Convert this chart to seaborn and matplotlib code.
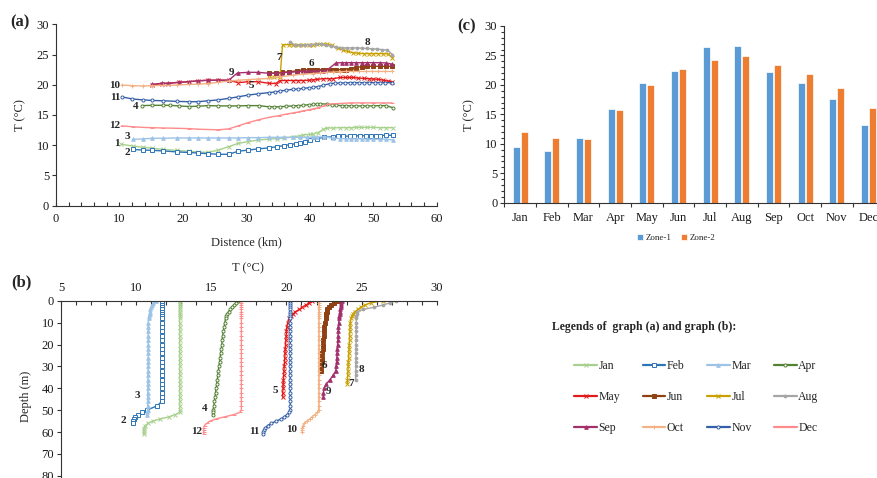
import matplotlib
matplotlib.use("Agg")
import matplotlib.pyplot as plt
import seaborn as sns
import pandas as pd
from matplotlib.ticker import MultipleLocator

# ---- shared month styling -------------------------------------------------
months = ["Jan", "Feb", "Mar", "Apr", "May", "Jun", "Jul", "Aug", "Sep", "Oct", "Nov", "Dec"]
colors = ["#A9D18E", "#2E75B6", "#9DC3E6", "#548235", "#E31A1C", "#8E4214",
          "#C9A000", "#A5A5A5", "#A3306B", "#F4B183", "#3560A8", "#FF8C8C"]
markers = ["x", "s", "^", "o", "x", "s", "x", "o", "^", "+", "o", "_"]
faces = [None, "white", None, "white", None, None, None, None, None, None, "white", None]
msizes = [2.6, 2.3, 2.6, 2.2, 2.8, 2.4, 2.6, 2.0, 2.6, 3.0, 2.2, 3.0]

# ---- (a) temperature along distance ----------------------------------------
dist_jan = [10.3, 12.1, 13.7, 15.2, 16.9, 19.0, 20.9, 22.4, 24.0, 25.6, 27.2, 28.7, 30.3, 31.9, 33.5, 34.8, 36.0, 37.4,
            38.4, 39.0, 40.0, 40.5, 41.3, 42.1, 42.7, 43.7, 44.7, 45.7, 46.5, 47.3, 48.0, 49.0, 50.0, 51.0, 52.0, 53.1]
t_jan = [10.15, 9.87, 9.65, 9.5, 9.3, 9.15, 9.0, 8.88, 8.82, 9.2, 9.76, 10.3, 10.6, 10.86, 11.0, 11.1, 11.2, 11.4,
         11.55, 11.7, 11.8, 11.85, 12.1, 12.6, 12.85, 12.85, 12.9, 12.9, 12.9, 12.95, 12.95, 12.95, 12.95, 12.9, 12.9, 12.9]
dist_feb = [12.1, 13.7, 15.2, 16.9, 19.0, 20.9, 22.4, 24.0, 25.6, 27.2, 28.7, 30.3, 31.9, 33.5, 34.8, 36.0, 36.9, 37.8,
            38.5, 39.3, 40.1, 41.2, 42.2, 43.7, 44.5, 45.3, 46.3, 47.0, 47.9, 48.8, 49.6, 50.4, 51.1, 52.0, 53.1]
t_feb = [9.3, 9.2, 9.15, 9.05, 8.9, 8.8, 8.7, 8.6, 8.5, 8.5, 9.0, 9.2, 9.4, 9.55, 9.75, 9.95, 10.1, 10.25,
         10.4, 10.6, 10.85, 11.1, 11.3, 11.4, 11.45, 11.5, 11.5, 11.55, 11.55, 11.6, 11.6, 11.6, 11.6, 11.65, 11.65]
dist_mar = [12.1, 13.7, 15.2, 16.9, 19.0, 20.9, 22.4, 24.0, 25.6, 27.2, 28.7, 30.3, 31.9, 33.5, 34.8, 36.0, 37.4,
            38.5, 39.5, 40.5, 41.2, 42.2, 43.7, 44.7, 45.7, 46.5, 47.3, 48.2, 49.0, 50.0, 51.0, 52.0, 53.1]
t_mar = [10.97, 11.05, 11.15, 11.15, 11.2, 11.2, 11.2, 11.2, 11.2, 11.2, 11.2, 11.25, 11.25, 11.3, 11.3, 11.3, 11.3,
         11.3, 11.3, 11.35, 11.35, 11.4, 11.15, 11.1, 11.05, 11.05, 11.05, 11.05, 11.0, 11.0, 11.0, 11.0, 10.85]
dist_apr = [13.5, 15.2, 16.9, 17.9, 19.3, 20.9, 22.4, 24.0, 25.6, 27.2, 28.7, 30.3, 32.0, 33.5, 34.4, 35.3, 36.3, 37.4,
            38.2, 39.0, 39.8, 40.5, 41.2, 41.6, 42.7, 43.5, 44.2, 45.0, 45.7, 46.5, 47.3, 48.2, 49.0, 50.0, 51.0, 52.0, 53.1]
t_apr = [16.55, 16.6, 16.6, 16.6, 16.5, 16.4, 16.45, 16.55, 16.5, 16.5, 16.5, 16.55, 16.55, 16.35, 16.35, 16.35, 16.45, 16.5,
         16.55, 16.6, 16.7, 16.75, 16.8, 16.85, 16.8, 16.65, 16.6, 16.55, 16.55, 16.5, 16.5, 16.5, 16.5, 16.5, 16.55, 16.55, 16.2]
dist_may = [15.1, 16.7, 17.6, 19.3, 20.9, 22.4, 24.0, 25.6, 27.2, 28.7, 30.3, 31.9, 33.5, 34.6, 35.3, 36.3, 37.4, 38.2,
            39.0, 39.8, 40.5, 41.2, 42.1, 43.0, 43.7, 44.7, 45.5, 46.2, 46.8, 47.6, 48.5, 49.3, 50.0, 50.8, 51.6, 52.3, 53.0]
t_may = [19.95, 20.2, 20.2, 20.4, 20.5, 20.65, 20.75, 20.75, 20.75, 20.35, 20.5, 20.5, 20.25, 20.2, 20.7, 20.7, 20.7, 20.7,
         20.7, 20.75, 20.8, 20.9, 21.0, 21.0, 21.0, 21.2, 21.2, 21.2, 21.2, 21.1, 21.05, 21.0, 20.95, 20.9, 20.75, 20.6, 20.5]
dist_jun = [33.5, 34.6, 35.6, 36.7, 38.0, 39.0, 39.8, 40.5, 41.2, 42.0, 42.7, 43.5, 44.2, 45.0, 45.7, 46.5, 47.3, 48.2,
            49.0, 50.0, 51.0, 52.0, 53.0]
t_jun = [21.9, 21.95, 22.05, 22.15, 22.3, 22.5, 22.5, 22.5, 22.5, 22.5, 22.5, 22.5, 22.5, 22.5, 22.5, 22.55, 22.85, 23.0,
         23.05, 23.05, 23.05, 23.05, 23.05]
dist_jul = [33.5, 34.3, 35.3, 35.7, 36.7, 37.4, 38.2, 39.0, 39.8, 40.5, 41.2, 42.0, 42.7, 43.5, 44.4, 45.2, 46.0, 46.8,
            47.6, 48.5, 49.3, 50.0, 50.8, 51.6, 52.3, 53.0]
t_jul = [21.2, 21.2, 21.2, 26.6, 26.65, 26.6, 26.6, 26.65, 26.65, 26.65, 26.7, 26.7, 26.7, 26.5, 26.05, 25.75, 25.5, 25.3,
         25.2, 25.15, 25.15, 25.15, 25.15, 25.15, 25.1, 24.5]
dist_aug = [36.9, 37.7, 38.5, 39.3, 40.1, 40.9, 41.7, 42.5, 43.3, 44.2, 45.0, 45.8, 46.6, 47.4, 48.2, 49.0, 49.8, 50.6,
            51.4, 52.2, 53.0]
t_aug = [27.1, 26.5, 26.55, 26.6, 26.65, 26.7, 26.7, 26.6, 26.45, 26.2, 26.1, 26.1, 26.1, 26.1, 26.05, 26.0, 25.95, 25.9,
         25.8, 25.75, 25.0]
dist_sep = [15.1, 16.7, 17.6, 19.3, 20.9, 22.4, 24.0, 25.6, 27.2, 28.6, 30.3, 31.9, 33.5, 34.6, 35.6, 36.7, 38.0, 39.0,
            39.6, 40.5, 41.2, 42.0, 42.7, 44.1, 45.0, 45.7, 46.5, 47.3, 48.2, 49.0, 50.0, 51.0, 52.0, 53.0]
t_sep = [20.05, 20.25, 20.25, 20.4, 20.5, 20.65, 20.75, 20.75, 20.75, 21.95, 22.05, 22.05, 21.9, 21.9, 22.0, 22.05, 22.15, 22.2,
         22.2, 22.25, 22.3, 22.35, 22.4, 23.6, 23.65, 23.65, 23.65, 23.65, 23.65, 23.65, 23.65, 23.65, 23.6, 23.4]
dist_oct = [10.35, 12.0, 13.7, 15.2, 16.9, 19.0, 20.9, 22.4, 24.0, 25.6, 27.2, 28.7, 30.3, 31.9, 33.5, 35.3, 37.4, 39.0,
            40.5, 41.6, 42.7, 43.7, 44.7, 45.7, 46.8, 47.8, 48.8, 49.8, 50.8, 51.8, 53.0]
t_oct = [19.95, 19.85, 19.8, 19.85, 19.9, 19.95, 20.05, 20.1, 20.2, 20.4, 20.6, 20.75, 20.85, 20.95, 21.05, 21.3, 21.6, 21.75,
         21.85, 21.95, 22.05, 22.1, 22.15, 22.2, 22.2, 22.2, 22.2, 22.2, 22.2, 22.2, 22.2]
dist_nov = [10.35, 12.0, 13.7, 15.2, 16.9, 19.0, 20.9, 22.4, 24.0, 25.6, 27.2, 28.7, 30.3, 31.9, 33.5, 34.5, 35.3, 36.3,
            37.4, 38.2, 39.0, 39.8, 40.5, 41.3, 42.1, 43.2, 44.0, 44.7, 45.5, 46.3, 47.0, 47.8, 48.6, 49.4, 50.2, 51.0, 51.8, 53.0]
t_nov = [18.0, 17.65, 17.5, 17.4, 17.35, 17.25, 17.2, 17.2, 17.35, 17.5, 17.75, 18.0, 18.3, 18.5, 18.7, 18.8, 18.95, 19.1,
         19.25, 19.3, 19.4, 19.5, 19.55, 19.7, 19.9, 20.2, 20.25, 20.3, 20.3, 20.35, 20.35, 20.35, 20.35, 20.35, 20.35, 20.35, 20.35, 20.35]
dist_dec = [10.35, 12.1, 13.7, 15.2, 16.9, 19.0, 20.9, 22.4, 24.0, 25.6, 27.2, 28.7, 30.3, 31.9, 33.5, 35.2, 36.3, 37.4,
            38.2, 39.0, 39.8, 40.5, 41.3, 42.1, 42.9, 44.7, 46.5, 48.2, 50.0, 51.5, 53.0]
t_dec = [13.2, 13.05, 12.95, 12.9, 12.85, 12.8, 12.75, 12.65, 12.6, 12.55, 12.7, 13.2, 13.75, 14.2, 14.6, 14.9, 15.15, 15.35,
         15.5, 15.7, 15.85, 16.0, 16.2, 16.45, 16.8, 16.9, 17.0, 17.0, 17.0, 17.0, 17.0]

dist_a = [dist_jan, dist_feb, dist_mar, dist_apr, dist_may, dist_jun, dist_jul, dist_aug, dist_sep, dist_oct, dist_nov, dist_dec]
temp_a = [t_jan, t_feb, t_mar, t_apr, t_may, t_jun, t_jul, t_aug, t_sep, t_oct, t_nov, t_dec]

lab_a_txt = ["1", "2", "3", "4", "5", "6", "7", "8", "9", "10", "11", "12"]
lab_a_x = [9.6, 11.3, 11.2, 12.6, 30.8, 40.3, 35.1, 49.0, 27.7, 9.3, 9.3, 9.3]
lab_a_y = [10.3, 8.8, 11.4, 16.4, 19.8, 23.5, 24.5, 27.0, 22.0, 19.95, 17.9, 13.2]

# ---- (b) vertical profiles -------------------------------------------------
depth_b = [0, 1, 2, 3, 4, 5, 6, 7, 8, 10, 12, 14, 16, 18, 20, 22, 24, 26, 28, 30, 32, 34, 36, 38, 40,
           42, 44, 46, 48, 50, 51, 52, 53, 54, 55, 56, 57, 58, 59, 60, 61]
prof_jan = [12.9, 12.9, 12.9, 12.9, 12.9, 12.9, 12.9, 12.9, 12.9, 12.9, 12.9, 12.9, 12.9, 12.9, 12.9, 12.9, 12.9, 12.9,
            12.9, 12.9, 12.9, 12.9, 12.9, 12.9, 12.9, 12.9, 12.9, 12.9, 12.9, 12.9, 12.9, 12.6, 12.2, 11.6, 11.1, 10.8,
            10.6, 10.55, 10.5, 10.5, 10.5]
prof_feb = [11.7, 11.7, 11.7, 11.7, 11.7, 11.7, 11.7, 11.7, 11.7, 11.7, 11.7, 11.7, 11.7, 11.7, 11.7, 11.7, 11.7, 11.7,
            11.7, 11.7, 11.7, 11.7, 11.7, 11.7, 11.7, 11.7, 11.7, 11.7, 11.4, 10.7, 10.4, 10.15, 9.95, 9.85, 9.8, 9.8]
prof_mar = [11.3, 11.15, 11.05, 11.0, 10.95, 10.9, 10.9, 10.85, 10.85, 10.8, 10.8, 10.8, 10.8, 10.8, 10.8, 10.8, 10.8,
            10.8, 10.8, 10.8, 10.78, 10.78, 10.78, 10.78, 10.77, 10.77, 10.77, 10.76, 10.76, 10.76, 10.75, 10.75]
prof_apr = [16.8, 16.65, 16.5, 16.35, 16.25, 16.15, 16.05, 16.0, 15.95, 15.9, 15.85, 15.8, 15.75, 15.72, 15.7, 15.66,
            15.62, 15.58, 15.55, 15.5, 15.47, 15.43, 15.4, 15.36, 15.32, 15.28, 15.25, 15.2, 15.17, 15.12, 15.1, 15.08]
prof_may = [21.7, 21.5, 21.3, 21.05, 20.85, 20.6, 20.45, 20.3, 20.2, 20.08, 20.03, 20.0, 19.98, 19.96, 19.94, 19.92,
            19.9, 19.89, 19.87, 19.85, 19.83, 19.81, 19.8, 19.78, 19.77, 19.75, 19.75]
prof_jun = [23.4, 23.15, 22.95, 22.8, 22.72, 22.68, 22.65, 22.62, 22.6, 22.55, 22.52, 22.5, 22.47, 22.45, 22.42, 22.4,
            22.38, 22.36, 22.34, 22.32, 22.3]
prof_jul = [26.4, 25.6, 25.2, 24.95, 24.75, 24.55, 24.42, 24.35, 24.3, 24.25, 24.23, 24.22, 24.2, 24.2, 24.18, 24.17,
            24.15, 24.14, 24.12, 24.1, 24.09, 24.08, 24.06, 24.05]
prof_aug = [27.3, 26.9, 26.4, 25.8, 25.1, 24.72, 24.68, 24.66, 24.65, 24.65, 24.65, 24.64, 24.64, 24.64, 24.63, 24.63,
            24.63, 24.62, 24.62, 24.62, 24.61, 24.61, 24.6]
prof_sep = [23.7, 23.65, 23.62, 23.6, 23.58, 23.56, 23.54, 23.52, 23.5, 23.48, 23.46, 23.45, 23.43, 23.42, 23.4, 23.38,
            23.37, 23.35, 23.33, 23.31, 23.28, 23.12, 22.9, 22.65, 22.5, 22.46, 22.45]
prof_oct = [22.15, 22.15, 22.15, 22.15, 22.15, 22.15, 22.15, 22.15, 22.15, 22.15, 22.15, 22.15, 22.15, 22.15, 22.15,
            22.15, 22.15, 22.15, 22.15, 22.15, 22.15, 22.15, 22.15, 22.15, 22.15, 22.15, 22.15, 22.15, 22.15, 22.15,
            22.05, 21.9, 21.7, 21.55, 21.35, 21.2, 21.1, 21.05, 21.05, 21.05]
prof_nov = [20.25, 20.25, 20.25, 20.25, 20.25, 20.25, 20.25, 20.25, 20.25, 20.25, 20.25, 20.25, 20.25, 20.25, 20.25,
            20.25, 20.25, 20.25, 20.25, 20.25, 20.25, 20.25, 20.25, 20.25, 20.25, 20.25, 20.25, 20.25, 20.25, 20.25,
            20.2, 20.05, 19.85, 19.65, 19.3, 19.0, 18.75, 18.6, 18.5, 18.47, 18.45]
prof_dec = [17.0, 17.0, 17.0, 17.0, 17.0, 17.0, 17.0, 17.0, 17.0, 17.0, 17.0, 17.0, 17.0, 17.0, 17.0, 17.0, 17.0, 17.0,
            17.0, 17.0, 17.0, 17.0, 17.0, 17.0, 17.0, 17.0, 17.0, 17.0, 17.0, 17.0, 16.9, 16.5, 15.9, 15.3, 14.9, 14.7,
            14.55, 14.5, 14.5, 14.5, 14.5]
prof_b = [prof_jan, prof_feb, prof_mar, prof_apr, prof_may, prof_jun, prof_jul, prof_aug, prof_sep, prof_oct, prof_nov, prof_dec]

lab_b_txt = ["2", "3", "4", "5", "6", "7", "8", "9", "10", "11", "12"]
lab_b_x = [9.13, 10.06, 14.58, 19.24, 22.5, 24.3, 24.96, 22.8, 20.35, 17.84, 14.05]
lab_b_y = [54.9, 43.5, 49.0, 41.2, 29.4, 37.7, 31.6, 41.5, 58.7, 59.8, 59.5]

# ---- (c) monthly means per zone --------------------------------------------
zone1 = [9.45, 8.83, 11.04, 15.96, 20.37, 22.41, 26.43, 26.6, 22.18, 20.32, 17.6, 13.13]
zone2 = [12.05, 11.04, 10.87, 15.68, 19.98, 22.75, 24.28, 24.84, 23.37, 21.79, 19.52, 16.07]

# ---------------------------------------------------------------------------
sns.set_theme(style="ticks")
plt.rcParams["font.family"] = ["Liberation Serif", "DejaVu Serif"]
plt.rcParams["axes.edgecolor"] = "#333333"
plt.rcParams["axes.linewidth"] = 0.8
plt.rcParams["xtick.color"] = "#333333"
plt.rcParams["ytick.color"] = "#333333"
plt.rcParams["xtick.labelcolor"] = "#1a1a1a"
plt.rcParams["ytick.labelcolor"] = "#1a1a1a"
tick_fs = 9
lab_fs = 9

fig = plt.figure(figsize=(8.77, 4.78), dpi=100)
ax_a = fig.add_axes([0.0639, 0.5697, 0.4341, 0.3795])
ax_b = fig.add_axes([0.0696, -0.0414, 0.4284, 0.4123])
ax_c = fig.add_axes([0.575, 0.576, 0.4333, 0.3697])


def line_kws(i):
    kw = dict(color=colors[i], marker=markers[i], markersize=msizes[i], markeredgecolor=colors[i],
              markeredgewidth=0.7, linewidth=1.0, estimator=None, sort=False, legend=False)
    kw["markerfacecolor"] = faces[i] if faces[i] is not None else colors[i]
    return kw


# (a)
for i in range(12):
    sns.lineplot(x=dist_a[i], y=temp_a[i], ax=ax_a, **line_kws(i))
ax_a.set_xlim(0, 60)
ax_a.set_ylim(0, 30)
ax_a.xaxis.set_major_locator(MultipleLocator(10))
ax_a.xaxis.set_minor_locator(MultipleLocator(2))
ax_a.yaxis.set_major_locator(MultipleLocator(5))
ax_a.tick_params(axis="x", which="both", direction="in", length=3, width=0.8, labelsize=tick_fs, pad=5)
ax_a.tick_params(axis="y", direction="out", length=3, width=0.8, labelsize=tick_fs, pad=2)
sns.despine(ax=ax_a)
ax_a.set_xlabel("Distence (km)", fontsize=lab_fs)
ax_a.set_ylabel("T (°C)", fontsize=lab_fs)
ax_a.xaxis.set_label_coords(0.499, -0.17)
ax_a.yaxis.set_label_coords(-0.077, 0.5)
for s, x, y in zip(lab_a_txt, lab_a_x, lab_a_y):
    ax_a.text(x, y, s, fontsize=8, fontweight="bold", ha="center", va="center")

# (b)
for i in range(12):
    sns.lineplot(x=prof_b[i], y=depth_b[:len(prof_b[i])], ax=ax_b, **line_kws(i))
ax_b.set_xlim(5, 30)
ax_b.set_ylim(90, 0)
ax_b.xaxis.tick_top()
ax_b.xaxis.set_label_position("top")
ax_b.xaxis.set_major_locator(MultipleLocator(5))
ax_b.xaxis.set_minor_locator(MultipleLocator(1))
ax_b.yaxis.set_major_locator(MultipleLocator(10))
ax_b.tick_params(axis="x", which="both", direction="in", length=3, width=0.8, labelsize=tick_fs, pad=5)
ax_b.tick_params(axis="y", direction="out", length=3, width=0.8, labelsize=tick_fs, pad=2)
ax_b.spines["bottom"].set_visible(False)
ax_b.spines["right"].set_visible(False)
ax_b.set_xlabel("T (°C)", fontsize=lab_fs)
ax_b.set_ylabel("Depth (m)", fontsize=lab_fs)
ax_b.xaxis.set_label_coords(0.498, 1.15)
ax_b.yaxis.set_label_coords(-0.077, 0.516)
for s, x, y in zip(lab_b_txt, lab_b_x, lab_b_y):
    ax_b.text(x, y, s, fontsize=8, fontweight="bold", ha="center", va="center")

# (c)
df_c = pd.DataFrame({"Month": months * 2,
                     "Zone": ["Zone-1"] * 12 + ["Zone-2"] * 12,
                     "T": zone1 + zone2})
sns.barplot(data=df_c, x="Month", y="T", hue="Zone", palette=["#5B9BD5", "#ED7D31"], saturation=1,
            width=0.5, gap=0.1, ax=ax_c, edgecolor="white", linewidth=0.5)
ax_c.set_xlim(-0.5, 11.5)
ax_c.set_ylim(0, 30)
ax_c.yaxis.set_major_locator(MultipleLocator(5))
ax_c.yaxis.set_minor_locator(MultipleLocator(1))
ax_c.set_xticks([x - 0.5 for x in range(13)], minor=True)
ax_c.tick_params(axis="x", which="major", length=0, labelsize=tick_fs, pad=7)
ax_c.tick_params(axis="x", which="minor", direction="out", length=3, width=0.8)
ax_c.tick_params(axis="y", which="both", direction="out", length=3, width=0.8, labelsize=tick_fs, pad=2)
ax_c.tick_params(axis="y", which="minor", length=2)
sns.despine(ax=ax_c)
ax_c.set_xlabel("")
ax_c.set_ylabel("T (°C)", fontsize=lab_fs)
ax_c.yaxis.set_label_coords(-0.077, 0.496)
ax_c.legend(loc="center", bbox_to_anchor=(0.771, 0.502), bbox_transform=fig.transFigure, ncol=2,
            frameon=False, fontsize=6.5, handlelength=0.7, handleheight=0.7, handletextpad=0.3,
            columnspacing=1.0)

# panel tags
fig.text(0.0228, 0.9525, "(a)", fontsize=12, fontweight="bold", ha="center", va="center")
fig.text(0.0247, 0.4086, "(b)", fontsize=12, fontweight="bold", ha="center", va="center")
fig.text(0.532, 0.9456, "(c)", fontsize=12, fontweight="bold", ha="center", va="center")

# shared legend for (a) and (b)
fig.text(0.6294, 0.3159, "Legends of  graph (a) and graph (b):", fontsize=8.5, fontweight="bold",
         ha="left", va="center")
lines_a = ax_a.get_lines()
order = [0, 4, 8, 1, 5, 9, 2, 6, 10, 3, 7, 11]
leg = fig.legend([lines_a[i] for i in order], [months[i] for i in order], ncol=4, loc="upper left",
                 bbox_to_anchor=(0.655, 0.246), frameon=False, fontsize=8.5, handlelength=1.9,
                 handletextpad=0.15, columnspacing=1.9, labelspacing=1.6, borderpad=0, borderaxespad=0)
for h in leg.legend_handles:
    h.set_linewidth(1.6)

fig.savefig("out.png", dpi=100)
